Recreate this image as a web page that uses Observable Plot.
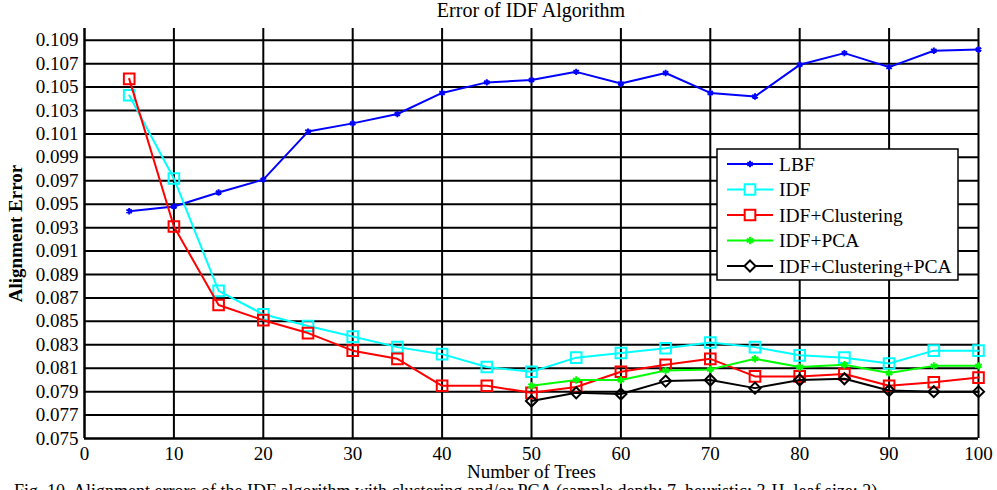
<!DOCTYPE html>
<html>
<head>
<meta charset="utf-8">
<script src="https://cdn.jsdelivr.net/npm/d3@7"></script>
<script src="https://cdn.jsdelivr.net/npm/@observablehq/plot@0.6"></script>
<style>
  html, body { margin: 0; padding: 0; background: #fff; overflow: hidden; }
  #wrap { position: relative; width: 997px; height: 490px; overflow: hidden; font-family: "Liberation Serif", "Times New Roman", serif; }
  #title { position: absolute; left: 0; width: 1062px; top: 0px; text-align: center; font-size: 20px; line-height: 21px; color: #000; }
  #caption { position: absolute; left: 14px; top: 481px; font-size: 18px; white-space: nowrap; color: #000; }
  svg [aria-label="y-axis label"] text { font-weight: bold; }
</style>
</head>
<body>
<div id="wrap">
  <div id="chart"></div>
  <div id="title">Error of IDF Algorithm</div>
  <div id="caption">Fig. 10. Alignment errors of the IDF algorithm with clustering and/or PCA (sample depth: 7, heuristic: 3-H, leaf size: 2)</div>
</div>
<script>
const trees = [5,10,15,20,25,30,35,40,45,50,55,60,65,70,75,80,85,90,95,100];
const treesPCA = [50,55,60,65,70,75,80,85,90,95,100];

const lbf = [0.0944,0.0948,0.0960,0.0971,0.1012,0.1019,0.1027,0.1045,0.1054,0.1056,0.1063,0.1053,0.1062,0.1045,0.1042,0.1069,0.1079,0.1067,0.1081,0.1082];
const idf = [0.1043,0.0972,0.0876,0.0856,0.0846,0.0837,0.0828,0.0822,0.0811,0.0807,0.0819,0.0823,0.0827,0.0832,0.0828,0.0821,0.0819,0.0814,0.0825,0.0825];
const idfClust = [0.1057,0.0931,0.0864,0.0851,0.0840,0.0825,0.0818,0.0795,0.0795,0.0789,0.0794,0.0807,0.0813,0.0818,0.0803,0.0803,0.0805,0.0795,0.0798,0.0802];
const idfPCA = [0.0795,0.0800,0.0800,0.0808,0.0809,0.0818,0.0811,0.0813,0.0806,0.0812,0.0812];
const idfClustPCA = [0.0782,0.0789,0.0788,0.0799,0.0800,0.0793,0.0800,0.0801,0.0791,0.0790,0.0790];

const yTicks = [0.075,0.077,0.079,0.081,0.083,0.085,0.087,0.089,0.091,0.093,0.095,0.097,0.099,0.101,0.103,0.105,0.107,0.109];
const xTicks = [0,10,20,30,40,50,60,70,80,90,100];

const seriesNames = ["LBF","IDF","IDF+Clustering","IDF+PCA","IDF+Clustering+PCA"];
const seriesColors = ["#0000ff","#00ffff","#ff0000","#00ff00","#000000"];
const seriesSymbols = ["asterisk","square","square","asterisk","diamond2"];
const seriesR = [3,6,6,3.5,5];

const rows = [];
const addSeries = (xs, ys, name) => xs.forEach((x, i) => rows.push({x, y: ys[i], s: name}));
addSeries(trees, lbf, seriesNames[0]);
addSeries(trees, idf, seriesNames[1]);
addSeries(trees, idfClust, seriesNames[2]);
addSeries(treesPCA, idfPCA, seriesNames[3]);
addSeries(treesPCA, idfClustPCA, seriesNames[4]);

const marks = [
  Plot.gridX(xTicks, {stroke: "#000", strokeOpacity: 1, strokeWidth: 2}),
  Plot.gridY(yTicks, {stroke: "#000", strokeOpacity: 1, strokeWidth: 2}),
  Plot.ruleX([0], {stroke: "#000", strokeWidth: 2}),
  Plot.ruleY([0.075], {stroke: "#000", strokeWidth: 2}),
  Plot.axisX({ticks: xTicks, tickSize: 0, tickPadding: 8, label: "Number of Trees", labelAnchor: "center", labelArrow: "none", labelOffset: 39, fontSize: 19}),
  Plot.axisY({ticks: yTicks, tickSize: 0, tickPadding: 6, tickFormat: d3.format(".3f"), label: "Alignment Error", labelAnchor: "center", labelArrow: "none", labelOffset: 76, fontSize: 19})
];
seriesNames.forEach((name, i) => {
  const data = rows.filter(d => d.s === name);
  marks.push(Plot.line(data, {x: "x", y: "y", stroke: seriesColors[i], strokeWidth: 2}));
  marks.push(Plot.dot(data, {x: "x", y: "y", stroke: seriesColors[i], fill: i === 3 ? seriesColors[i] : "none", symbol: () => seriesSymbols[i], r: seriesR[i], strokeWidth: 2}));
});

const chart = Plot.plot({
  width: 997,
  height: 490,
  marginTop: 28,
  marginBottom: 52,
  marginLeft: 84,
  marginRight: 19,
  style: {fontFamily: "'Liberation Serif', 'Times New Roman', serif", fontSize: "19px", color: "#000", background: "#fff"},
  x: {domain: [0, 100]},
  y: {domain: [0.075, 0.110]},
  marks
});
document.getElementById("chart").appendChild(chart);

// legend
const svg = d3.select(chart);
const lg = svg.append("g").attr("transform", "translate(717,149)");
lg.append("rect").attr("width", 241).attr("height", 131).attr("fill", "#fff").attr("stroke", "#000").attr("stroke-width", 1.5);
seriesNames.forEach((name, i) => {
  const yy = 15 + i * 25.5;
  lg.append("line").attr("x1", 10).attr("x2", 56).attr("y1", yy).attr("y2", yy).attr("stroke", seriesColors[i]).attr("stroke-width", 2);
  lg.append("path")
    .attr("d", d3.symbol(({asterisk: d3.symbolAsterisk, square: d3.symbolSquare, diamond2: d3.symbolDiamond2})[seriesSymbols[i]], seriesR[i] * seriesR[i] * Math.PI)())
    .attr("transform", `translate(33,${yy})`)
    .attr("fill", i === 3 ? seriesColors[i] : "#fff")
    .attr("stroke", seriesColors[i]).attr("stroke-width", 2);
  lg.append("text").attr("x", 62).attr("y", yy).attr("dy", "0.35em")
    .attr("text-anchor", "start")
    .attr("font-size", 19.5).attr("fill", "#000").text(name);
});
</script>
</body>
</html>
